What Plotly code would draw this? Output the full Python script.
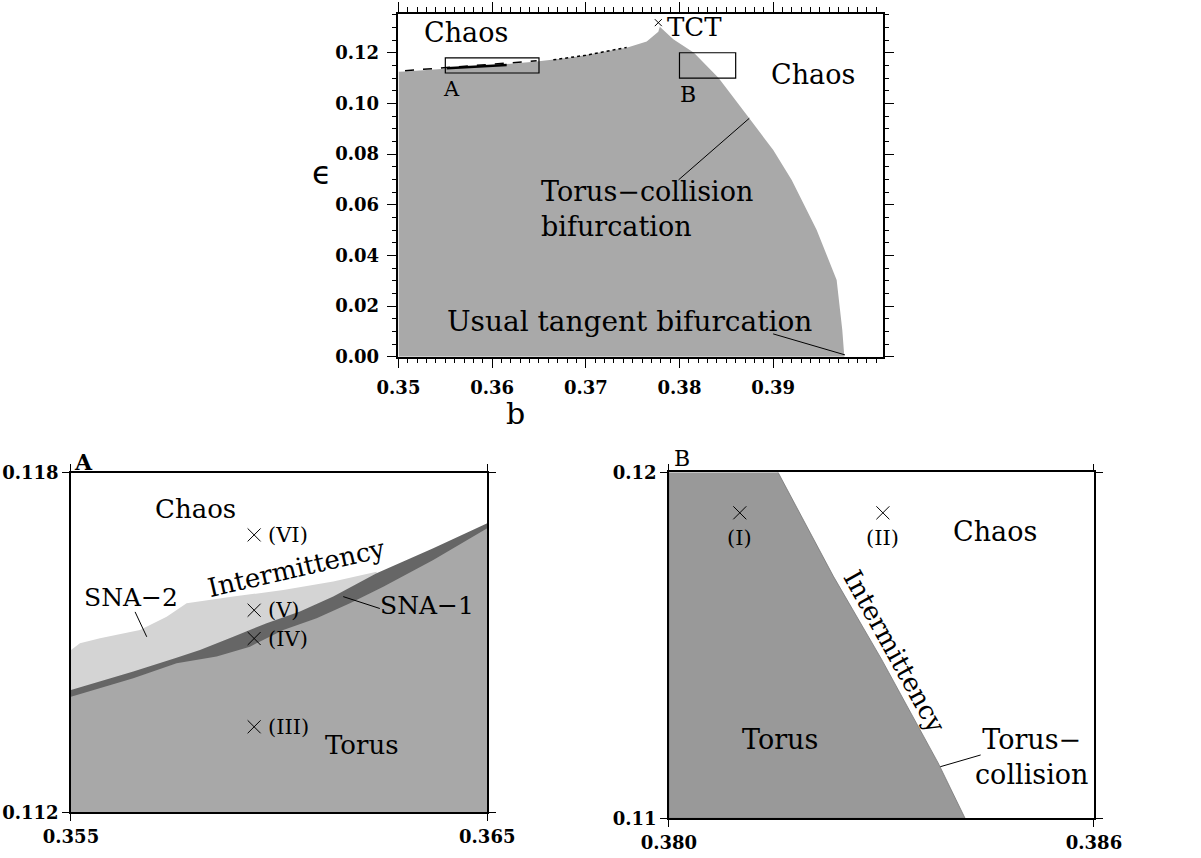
import plotly.graph_objects as go

# ---------------- axis ranges ----------------
TOP_X_RANGE = [0.35, 0.4017]
TOP_Y_RANGE = [0.0, 0.1353]
A_X_RANGE = [0.355, 0.365]
A_Y_RANGE = [0.112, 0.118]
B_X_RANGE = [0.380, 0.386]
B_Y_RANGE = [0.110, 0.120]

top_xticks = [0.35, 0.36, 0.37, 0.38, 0.39]
top_xtick_text = ["0.35", "0.36", "0.37", "0.38", "0.39"]
top_yticks = [0.00, 0.02, 0.04, 0.06, 0.08, 0.10, 0.12]
top_ytick_text = ["0.00", "0.02", "0.04", "0.06", "0.08", "0.10", "0.12"]
a_xtick_text = ["0.355", "0.365"]
a_ytick_text = ["0.112", "0.118"]
b_xtick_text = ["0.380", "0.386"]
b_ytick_text = ["0.11", "0.12"]

# ---------------- top panel: torus region boundary ----------------
torus_b = [0.35, 0.3507, 0.358, 0.36475, 0.36866, 0.37436, 0.3765, 0.37774, 0.3779,
           0.37845, 0.37934, 0.38154, 0.38418, 0.38745, 0.39001, 0.39198, 0.39304,
           0.39465, 0.39678, 0.39738, 0.3976]
torus_eps = [0.1125, 0.1126, 0.1145, 0.1165, 0.1182, 0.1220, 0.1244, 0.1283, 0.1303,
             0.1283, 0.1253, 0.1200, 0.1100, 0.0941, 0.0816, 0.0698, 0.0619,
             0.0500, 0.0303, 0.0106, 0.0]

dashed_b = [0.3507, 0.358, 0.36475]
dashed_eps = [0.1129, 0.1148, 0.1168]
sna_line_b = [0.35514, 0.36155]
sna_line_eps = [0.1139, 0.1152]
dotted_b = [0.36653, 0.37000, 0.37436]
dotted_eps = [0.1172, 0.1190, 0.1221]
tct_b = [0.37774]
tct_eps = [0.13188]

# leader lines (top panel)
lead_tc_b = [0.3799, 0.38745]
lead_tc_eps = [0.0698, 0.0941]
lead_ut_b = [0.3900, 0.39767]
lead_ut_eps = [0.0090, 0.0007]

# ---------------- panel A ----------------
a_light_b = [0.355, 0.355216, 0.355697, 0.356657, 0.357298, 0.357778, 0.358899,
             0.360100, 0.361301, 0.362342]
a_light_eps = [0.114868, 0.114985, 0.115074, 0.115221, 0.115456, 0.115692, 0.115810,
               0.115927, 0.116075, 0.116251]
a_dark_b = [0.355, 0.356497, 0.357498, 0.358098, 0.358899, 0.359700, 0.360500,
            0.361301, 0.362342, 0.363703, 0.365]
a_dark_eps = [0.114161, 0.114485, 0.114720, 0.114867, 0.115103, 0.115339, 0.115545,
              0.115810, 0.116222, 0.116663, 0.117105]
a_torus_b = [0.355, 0.356497, 0.357538, 0.358499, 0.359299, 0.360100, 0.360901,
             0.361701, 0.362502, 0.363703, 0.365]
a_torus_eps = [0.114043, 0.114367, 0.114632, 0.114750, 0.114926, 0.115221, 0.115427,
               0.115692, 0.115986, 0.116457, 0.117017]

a_pts_b = [0.3594, 0.3594, 0.3594, 0.3594]
a_pts_eps = [0.11690, 0.11557, 0.11507, 0.11351]
a_pts_labels = ["(VI)", "(V)", "(IV)", "(III)"]

lead_sna2_b = [0.35654, 0.35682]
lead_sna2_eps = [0.11554, 0.11510]
lead_sna1_b = [0.36242, 0.36154]
lead_sna1_eps = [0.11560, 0.11581]

# ---------------- panel B ----------------
b_bound_b = [0.38154, 0.38232, 0.38300, 0.38380, 0.38418]
b_bound_eps = [0.1200, 0.1170, 0.1146, 0.1116, 0.1100]
b_pts_b = [0.381, 0.38302]
b_pts_eps = [0.11883, 0.11883]
b_pts_labels = ["(I)", "(II)"]
lead_tcb_b = [0.38440, 0.38383]
lead_tcb_eps = [0.11183, 0.11149]

SERIF = "DejaVu Serif"
fig = go.Figure()

# top panel region
fig.add_trace(go.Scatter(x=torus_b + [TOP_X_RANGE[0]], y=torus_eps + [0.0],
                         fill="toself", fillcolor="#a9a9a9", mode="lines",
                         line=dict(width=0), xaxis="x", yaxis="y", hoverinfo="skip"))
fig.add_trace(go.Scatter(x=dashed_b, y=dashed_eps, mode="lines",
                         line=dict(color="black", width=1.5, dash="dash"),
                         xaxis="x", yaxis="y", hoverinfo="skip"))
fig.add_trace(go.Scatter(x=sna_line_b, y=sna_line_eps, mode="lines",
                         line=dict(color="black", width=2.5),
                         xaxis="x", yaxis="y", hoverinfo="skip"))
fig.add_trace(go.Scatter(x=dotted_b, y=dotted_eps, mode="lines",
                         line=dict(color="black", width=1.5, dash="dot"),
                         xaxis="x", yaxis="y", hoverinfo="skip"))
fig.add_trace(go.Scatter(x=tct_b, y=tct_eps, mode="markers",
                         marker=dict(symbol="x-thin", size=7, line=dict(color="black", width=1)),
                         xaxis="x", yaxis="y", hoverinfo="skip"))
for lx, ly in [(lead_tc_b, lead_tc_eps), (lead_ut_b, lead_ut_eps)]:
    fig.add_trace(go.Scatter(x=lx, y=ly, mode="lines", line=dict(color="black", width=1),
                             xaxis="x", yaxis="y", hoverinfo="skip"))

# panel A regions
for bx, by, col in [(a_light_b, a_light_eps, "#d4d4d4"),
                    (a_dark_b, a_dark_eps, "#666666"),
                    (a_torus_b, a_torus_eps, "#a8a8a8")]:
    fig.add_trace(go.Scatter(x=bx + [bx[-1], bx[0]], y=by + [A_Y_RANGE[0], A_Y_RANGE[0]],
                             fill="toself", fillcolor=col, mode="lines", line=dict(width=0),
                             xaxis="x2", yaxis="y2", hoverinfo="skip"))
fig.add_trace(go.Scatter(x=a_pts_b, y=a_pts_eps, mode="markers",
                         marker=dict(symbol="x-thin", size=13, line=dict(color="black", width=1)),
                         xaxis="x2", yaxis="y2", hoverinfo="skip"))
for lx, ly in [(lead_sna2_b, lead_sna2_eps), (lead_sna1_b, lead_sna1_eps)]:
    fig.add_trace(go.Scatter(x=lx, y=ly, mode="lines", line=dict(color="black", width=1),
                             xaxis="x2", yaxis="y2", hoverinfo="skip"))

# panel B region
fig.add_trace(go.Scatter(x=b_bound_b + [B_X_RANGE[0], B_X_RANGE[0]],
                         y=b_bound_eps + [B_Y_RANGE[0], B_Y_RANGE[1]],
                         fill="toself", fillcolor="#999999", mode="lines",
                         line=dict(width=0.8, color="#777777"),
                         xaxis="x3", yaxis="y3", hoverinfo="skip"))
fig.add_trace(go.Scatter(x=b_pts_b, y=b_pts_eps, mode="markers",
                         marker=dict(symbol="x-thin", size=13, line=dict(color="black", width=1)),
                         xaxis="x3", yaxis="y3", hoverinfo="skip"))
fig.add_trace(go.Scatter(x=lead_tcb_b, y=lead_tcb_eps, mode="lines",
                         line=dict(color="black", width=1),
                         xaxis="x3", yaxis="y3", hoverinfo="skip"))

# inset rectangles on top panel
for xr, yr in [(A_X_RANGE, A_Y_RANGE), (B_X_RANGE, B_Y_RANGE)]:
    fig.add_shape(type="rect", xref="x", yref="y", x0=xr[0], x1=xr[1], y0=yr[0], y1=yr[1],
                  line=dict(color="black", width=1.2), fillcolor="rgba(0,0,0,0)")

tickfont = dict(family=SERIF, size=18, color="black", weight="bold")
common = dict(showline=True, linecolor="black", linewidth=1.5, ticks="outside",
              mirror="ticks", showgrid=False, zeroline=False, tickcolor="black",
              tickwidth=1.3, tickfont=tickfont, fixedrange=True, automargin=False)

fig.update_layout(
    width=1201, height=858, margin=dict(l=0, r=0, t=0, b=0, autoexpand=False),
    paper_bgcolor="white", plot_bgcolor="white", showlegend=False,
    xaxis=dict(domain=[0.3318, 0.7350], range=TOP_X_RANGE, tickvals=top_xticks,
               ticktext=top_xtick_text, ticklen=10, anchor="y",
               minor=dict(dtick=0.001, ticklen=5, ticks="outside", tickcolor="black", tickwidth=1),
               ticklabelstandoff=4, **common),
    yaxis=dict(domain=[0.5843, 0.9837], range=TOP_Y_RANGE, tickvals=top_yticks,
               ticktext=top_ytick_text, ticklen=10, anchor="x",
               minor=dict(dtick=0.005, ticklen=5, ticks="outside", tickcolor="black", tickwidth=1),
               ticklabelstandoff=4, **common),
    xaxis2=dict(domain=[0.0591, 0.4057], range=A_X_RANGE, tickvals=A_X_RANGE,
                ticktext=a_xtick_text, ticklen=7, anchor="y2", ticklabelstandoff=0, **common),
    yaxis2=dict(domain=[0.0533, 0.4491], range=A_Y_RANGE, tickvals=A_Y_RANGE,
                ticktext=a_ytick_text, ticklen=7, anchor="x2", ticklabelstandoff=0, **common),
    xaxis3=dict(domain=[0.5570, 0.9109], range=B_X_RANGE, tickvals=B_X_RANGE,
                ticktext=b_xtick_text, ticklen=7, anchor="y3", ticklabelstandoff=0, **common),
    yaxis3=dict(domain=[0.0463, 0.4495], range=B_Y_RANGE, tickvals=B_Y_RANGE,
                ticktext=b_ytick_text, ticklen=7, anchor="x3", ticklabelstandoff=0, **common),
)

def t_ax(ref, x, y, s, size=27, **kw):
    fig.add_annotation(x=x, y=y, xref="x" + ref, yref="y" + ref, text=s, showarrow=False,
                       yanchor="middle", font=dict(family=SERIF, size=size, color="black"),
                       **kw)

# top panel texts
t_ax("", 0.35721, 0.12782, "Chaos")
t_ax("", 0.38155, 0.13019, "TCT", size=26)
t_ax("", 0.35571, 0.10571, "A", size=21)
t_ax("", 0.38091, 0.10334, "B", size=22)
t_ax("", 0.39425, 0.11124, "Chaos")
t_ax("", 0.3650, 0.05833, "Torus−collision<br>bifurcation", xanchor="left", align="left", size=27)
t_ax("", 0.37471, 0.01372, "Usual tangent bifurcation", size=28)

# panel A texts
t_ax("2", 0.35798, 0.11736, "Chaos", size=26)
t_ax("2", 0.36042, 0.11631, "Intermittency", textangle=-13, size=26)
t_ax("2", 0.35644, 0.11580, "SNA−2", size=25)
t_ax("2", 0.36355, 0.11566, "SNA−1", size=25)
t_ax("2", 0.36198, 0.11319, "Torus", size=26)
for bx, by, lab in zip(a_pts_b, a_pts_eps, a_pts_labels):
    t_ax("2", bx + 0.00028, by, lab, xanchor="left", size=21)

# panel B texts
t_ax("3", 0.3846, 0.1183, "Chaos", size=27)
t_ax("3", 0.38319, 0.11481, "Intermittency", textangle=61, size=26)
t_ax("3", 0.38157, 0.11229, "Torus", size=27)
t_ax("3", 0.38512, 0.11176, "Torus−<br>collision", size=27)
for bx, by, lab in zip(b_pts_b, b_pts_eps, b_pts_labels):
    t_ax("3", bx, by - 0.00073, lab, size=21)

# axis titles and panel letters (paper coords)
def t_p(x, y, s, size, family=SERIF, weight="normal", xanchor="center"):
    fig.add_annotation(x=x, y=y, xref="paper", yref="paper", text=s, showarrow=False,
                       xanchor=xanchor, yanchor="middle",
                       font=dict(family=family, size=size, color="black", weight=weight))

t_p(0.4296, 0.5185, "b", 30)
t_p(0.2679, 0.798, "ϵ", 32, family="DejaVu Sans")
t_p(0.0600, 0.4615, "A", 22, weight="bold", xanchor="left")
t_p(0.5596, 0.4662, "B", 22, xanchor="left")

fig.write_html("out.html")
